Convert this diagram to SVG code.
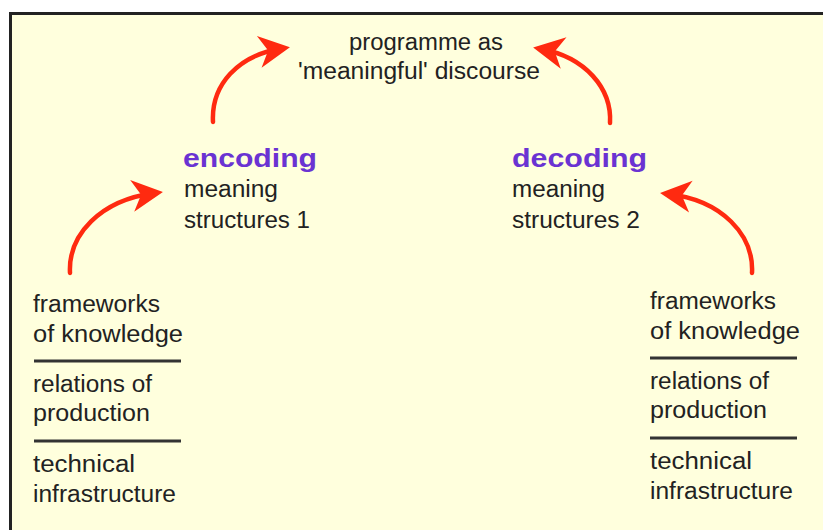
<svg xmlns="http://www.w3.org/2000/svg" width="823" height="530" viewBox="0 0 823 530">
<defs>
<style>
.t{font-family:"Liberation Sans",Arial,sans-serif;font-size:23px;fill:#222}
.h{font-family:"Liberation Sans",Arial,sans-serif;font-size:25px;font-weight:bold;fill:#6a33d2}
.sep{stroke:#333;stroke-width:3}
.arr{fill:none;stroke:#ff2a10;stroke-width:4.5;stroke-linecap:round}
</style>
<marker id="ah" markerUnits="userSpaceOnUse" markerWidth="44" markerHeight="44" viewBox="-36 -22 44 44" refX="-8" refY="0" orient="auto">
<path d="M0,0 L-31,-16 L-22,0 L-31,16 Z" fill="#ff2a10"/>
</marker>
</defs>
<rect x="0" y="0" width="823" height="530" fill="#ffffff"/>
<rect x="10.5" y="13.5" width="830" height="530" fill="#ffffdd" stroke="#222" stroke-width="3"/>
<g id="connectors">
<path class="arr" d="M213,122 C211,85 238,55 282,48.5" marker-end="url(#ah)"/>
<path class="arr" d="M610,123 C612,88 585,57 541,49" marker-end="url(#ah)"/>
<path class="arr" d="M70,273 C68,235 100,200 155,193" marker-end="url(#ah)"/>
<path class="arr" d="M752,273 C754,235 722,200 668,194" marker-end="url(#ah)"/>
</g>
<g id="programme">
<text class="t" x="349" y="50" textLength="154" lengthAdjust="spacingAndGlyphs">programme as</text>
<text class="t" x="298" y="79" textLength="242" lengthAdjust="spacingAndGlyphs">'meaningful' discourse</text>
</g>
<g id="encoding">
<text class="h" x="183" y="167" textLength="134" lengthAdjust="spacingAndGlyphs">encoding</text>
<text class="t" x="184" y="197" textLength="94" lengthAdjust="spacingAndGlyphs">meaning</text>
<text class="t" x="184" y="228" textLength="126" lengthAdjust="spacingAndGlyphs">structures 1</text>
</g>
<g id="decoding">
<text class="h" x="512" y="167" textLength="135" lengthAdjust="spacingAndGlyphs">decoding</text>
<text class="t" x="512" y="197" textLength="93" lengthAdjust="spacingAndGlyphs">meaning</text>
<text class="t" x="512" y="228" textLength="128" lengthAdjust="spacingAndGlyphs">structures 2</text>
</g>
<g id="left-stack">
<text class="t" x="33" y="312" textLength="127" lengthAdjust="spacingAndGlyphs">frameworks</text>
<text class="t" x="33" y="342" textLength="150" lengthAdjust="spacingAndGlyphs">of knowledge</text>
<line class="sep" x1="34" y1="361" x2="181" y2="361"/>
<text class="t" x="33" y="392" textLength="119" lengthAdjust="spacingAndGlyphs">relations of</text>
<text class="t" x="33" y="421" textLength="117" lengthAdjust="spacingAndGlyphs">production</text>
<line class="sep" x1="34" y1="441" x2="181" y2="441"/>
<text class="t" x="33" y="472" textLength="102" lengthAdjust="spacingAndGlyphs">technical</text>
<text class="t" x="33" y="502" textLength="143" lengthAdjust="spacingAndGlyphs">infrastructure</text>
</g>
<g id="right-stack">
<text class="t" x="650" y="309" textLength="126" lengthAdjust="spacingAndGlyphs">frameworks</text>
<text class="t" x="650" y="339" textLength="150" lengthAdjust="spacingAndGlyphs">of knowledge</text>
<line class="sep" x1="650" y1="358" x2="797" y2="358"/>
<text class="t" x="650" y="389" textLength="119" lengthAdjust="spacingAndGlyphs">relations of</text>
<text class="t" x="650" y="418" textLength="117" lengthAdjust="spacingAndGlyphs">production</text>
<line class="sep" x1="650" y1="438" x2="797" y2="438"/>
<text class="t" x="650" y="469" textLength="102" lengthAdjust="spacingAndGlyphs">technical</text>
<text class="t" x="650" y="499" textLength="143" lengthAdjust="spacingAndGlyphs">infrastructure</text>
</g>
</svg>
